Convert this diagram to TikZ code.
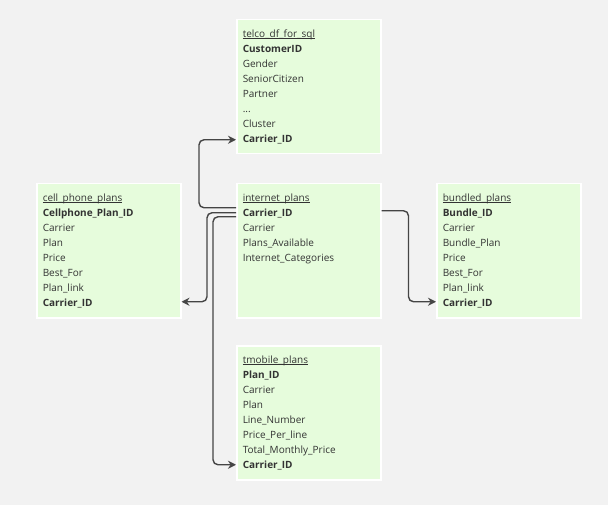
\documentclass[tikz,border=0pt]{standalone}
\usepackage{fontspec}
\setmainfont{Open Sans}
\usetikzlibrary{arrows.meta}

\definecolor{canvas}{HTML}{F2F2F2}
\definecolor{tablefill}{HTML}{E6FCDC}
\definecolor{linkgray}{HTML}{454545}
\definecolor{textgray}{HTML}{333333}

\newcommand{\tabletitle}[1]{\rule{0pt}{17.5pt}\setbox0\hbox{#1}%
    \rlap{\rule[-1.7pt]{\wd0}{0.6pt}}\box0}
\newcommand{\tablebody}[1]{\parbox[c][134pt][t]{132pt}{#1}}

\begin{document}
\begin{tikzpicture}[x=1pt, y=-1pt,
        table/.style={rectangle, fill=tablefill, draw=white, line width=1.5pt,
            inner xsep=6pt, inner ysep=0pt, anchor=north west, text=textgray,
            font=\fontsize{10}{15}\selectfont},
        link/.style={linkgray, line width=1.4pt, rounded corners=5pt,
            -{Stealth[length=8pt, width=8pt]}}
    ]
        \fill[canvas] (0,0) rectangle (608,505);
        \useasboundingbox (0,0) rectangle (608,505);

        % Tables
        \node[table] (telco) at (236,19) {\tablebody{%
            \tabletitle{telco\_df\_for\_sql}\\
            \textbf{CustomerID}\\
            Gender\\
            SeniorCitizen\\
            Partner\\
            ...\\
            Cluster\\
            \textbf{Carrier\_ID}}};
        \node[table] (cell) at (36,183) {\tablebody{%
            \tabletitle{cell\_phone\_plans}\\
            \textbf{Cellphone\_Plan\_ID}\\
            Carrier\\
            Plan\\
            Price\\
            Best\_For\\
            Plan\_link\\
            \textbf{Carrier\_ID}}};
        \node[table] (internet) at (236,183) {\tablebody{%
            \tabletitle{internet\_plans}\\
            \textbf{Carrier\_ID}\\
            Carrier\\
            Plans\_Available\\
            Internet\_Categories}};
        \node[table] (bundled) at (436,183) {\tablebody{%
            \tabletitle{bundled\_plans}\\
            \textbf{Bundle\_ID}\\
            Carrier\\
            Bundle\_Plan\\
            Price\\
            Best\_For\\
            Plan\_link\\
            \textbf{Carrier\_ID}}};
        \node[table] (tmobile) at (236,345) {\tablebody{%
            \tabletitle{tmobile\_plans}\\
            \textbf{Plan\_ID}\\
            Carrier\\
            Plan\\
            Line\_Number\\
            Price\_Per\_line\\
            Total\_Monthly\_Price\\
            \textbf{Carrier\_ID}}};

        % Carrier_ID links
        \coordinate (ip-a) at ([yshift=43pt]internet.west);
        \coordinate (ip-b) at ([yshift=38pt]internet.west);
        \coordinate (ip-c) at ([yshift=34pt]internet.west);
        \coordinate (ip-d) at ([yshift=40pt]internet.east);
        \coordinate (telco-key) at ([yshift=-53pt]telco.west);
        \coordinate (cell-key) at ([yshift=-51pt]cell.east);
        \coordinate (bundled-key) at ([yshift=-51pt]bundled.west);
        \coordinate (tmobile-key) at ([yshift=-52pt]tmobile.west);

        \draw[link] (ip-a) -- ++(-37,0) |- (telco-key);
        \draw[link] (ip-b) -- ++(-29,0) |- (cell-key);
        \draw[link] (ip-c) -- ++(-23,0) |- (tmobile-key);
        \draw[link] (ip-d) -- ++(27,0) |- (bundled-key);
    \end{tikzpicture}
\end{document}
